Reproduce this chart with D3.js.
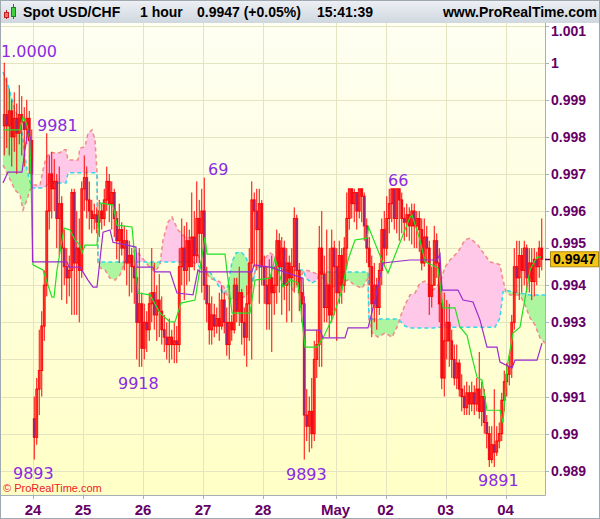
<!DOCTYPE html>
<html><head><meta charset="utf-8">
<script src="https://cdn.jsdelivr.net/npm/d3@7"></script>
<style>html,body{margin:0;padding:0;background:#fff;}svg{display:block;}</style>
</head><body>
<svg id="chart" width="600" height="519"></svg>
<script>
// ---------- DATA ----------
const openP = [.9983,.9986,.9983,.9987,.9980,.9985,.9981,.9986,.9984,.9982,.9985,.9979,.9904,.9899,.9912,.9917,.9929,.9940,.9960,.9970,
.9966,.9968,.9958,.9962,.9950,.9945,.9942,.9944,.9965,.9946,.9950,.9944,.9966,.9969,.9963,.9960,.9958,.9959,.9957,.9960,
.9958,.9963,.9968,.9962,.9965,.9958,.9952,.9955,.9950,.9952,.9946,.9948,.9945,.9942,.9930,.9935,.9923,.9930,.9928,.9935,
.9938,.9932,.9936,.9933,.9928,.9926,.9924,.9926,.9924,.9925,.9924,.9945,.9950,.9944,.9952,.9945,.9953,.9948,.9958,.9954,
.9960,.9940,.9935,.9928,.9932,.9929,.9931,.9929,.9936,.9930,.9924,.9930,.9928,.9940,.9933,.9938,.9930,.9926,.9935,.9946,
.9963,.9960,.9955,.9962,.9945,.9940,.9935,.9942,.9938,.9940,.9952,.9945,.9950,.9940,.9946,.9942,.9945,.9958,.9944,.9938,
.9935,.9905,.9902,.9906,.9900,.9920,.9924,.9950,.9943,.9934,.9940,.9932,.9950,.9945,.9938,.9948,.9940,.9950,.9958,.9966,
.9962,.9965,.9960,.9966,.9964,.9956,.9950,.9945,.9935,.9940,.9934,.9944,.9955,.9950,.9958,.9962,.9966,.9958,.9966,.9963,
.9958,.9957,.9959,.9956,.9960,.9956,.9958,.9955,.9946,.9953,.9950,.9937,.9940,.9952,.9946,.9935,.9915,.9925,.9930,.9925,
.9920,.9915,.9919,.9912,.9910,.9907,.9911,.9908,.9911,.9908,.9912,.9906,.9910,.9903,.9900,.9893,.9897,.9895,.9898,.9900,
.9909,.9914,.9916,.9918,.9930,.9945,.9942,.9948,.9944,.9950,.9942,.9946,.9941,.9947,.9945,.9950];
const highP = [1.0000,.9996,.9993,.9990,.9992,.9989,.9994,.9991,.9988,.9990,.9987,.9982,.9910,.9915,.9928,.9933,.9944,.9981,.9975,.9976,
.9974,.9970,.9972,.9964,.9955,.9950,.9948,.9966,.9966,.9960,.9958,.9968,.9975,.9972,.9968,.9963,.9962,.9961,.9963,.9962,
.9966,.9972,.9970,.9968,.9966,.9960,.9962,.9957,.9956,.9955,.9952,.9950,.9948,.9945,.9950,.9938,.9935,.9933,.9938,.9950,
.9946,.9940,.9943,.9937,.9932,.9930,.9931,.9928,.9930,.9929,.9950,.9958,.9956,.9957,.9955,.9965,.9960,.9968,.9963,.9966,
.9969,.9945,.9940,.9937,.9935,.9934,.9938,.9940,.9938,.9934,.9940,.9932,.9942,.9942,.9945,.9939,.9934,.9940,.9950,.9968,
.9965,.9966,.9966,.9963,.9948,.9945,.9947,.9948,.9945,.9955,.9954,.9953,.9952,.9950,.9948,.9950,.9961,.9959,.9946,.9942,
.9937,.9912,.9910,.9915,.9925,.9928,.9956,.9960,.9948,.9955,.9950,.9955,.9952,.9950,.9952,.9950,.9953,.9965,.9966,.9966,
.9966,.9965,.9966,.9966,.9965,.9958,.9953,.9948,.9946,.9942,.9946,.9958,.9960,.9964,.9966,.9966,.9966,.9966,.9966,.9965,
.9961,.9962,.9961,.9962,.9962,.9960,.9960,.9958,.9958,.9956,.9952,.9945,.9956,.9954,.9950,.9940,.9938,.9936,.9935,.9928,
.9924,.9924,.9920,.9916,.9913,.9914,.9913,.9914,.9913,.9915,.9922,.9914,.9912,.9905,.9902,.9902,.9912,.9902,.9903,.9911,
.9917,.9919,.9921,.9932,.9950,.9952,.9952,.9950,.9952,.9951,.9950,.9950,.9950,.9949,.9952,.9958];
const lowP = [.9975,.9977,.9975,.9972,.9976,.9970,.9978,.9975,.9972,.9978,.9970,.9966,.9893,.9897,.9905,.9910,.9925,.9937,.9955,.9958,
.9960,.9950,.9948,.9936,.9940,.9935,.9937,.9932,.9932,.9932,.9930,.9942,.9960,.9958,.9955,.9954,.9955,.9954,.9953,.9955,
.9956,.9960,.9957,.9955,.9953,.9947,.9946,.9948,.9944,.9940,.9937,.9938,.9935,.9920,.9918,.9918,.9920,.9922,.9925,.9930,
.9928,.9925,.9926,.9924,.9922,.9920,.9919,.9920,.9919,.9919,.9922,.9940,.9936,.9940,.9941,.9945,.9944,.9946,.9946,.9938,
.9936,.9930,.9924,.9924,.9926,.9927,.9925,.9928,.9927,.9921,.9920,.9925,.9927,.9930,.9929,.9924,.9921,.9918,.9925,.9920,
.9945,.9944,.9935,.9940,.9935,.9928,.9928,.9922,.9932,.9935,.9938,.9932,.9936,.9930,.9933,.9930,.9938,.9940,.9933,.9930,
.9893,.9898,.9895,.9896,.9898,.9915,.9918,.9918,.9930,.9930,.9926,.9930,.9932,.9925,.9935,.9935,.9938,.9945,.9955,.9958,
.9957,.9955,.9958,.9957,.9952,.9946,.9940,.9926,.9930,.9928,.9932,.9940,.9945,.9948,.9954,.9957,.9955,.9954,.9952,.9954,
.9952,.9953,.9952,.9951,.9950,.9950,.9949,.9944,.9945,.9946,.9932,.9934,.9940,.9942,.9930,.9912,.9910,.9920,.9918,.9915,
.9913,.9912,.9910,.9906,.9905,.9905,.9905,.9906,.9905,.9906,.9904,.9902,.9900,.9896,.9891,.9892,.9891,.9894,.9896,.9898,
.9906,.9910,.9913,.9915,.9928,.9938,.9936,.9938,.9940,.9938,.9938,.9936,.9937,.9940,.9942,.9944];
const closeP = [.9986,.9983,.9987,.9980,.9985,.9981,.9986,.9984,.9982,.9985,.9979,.9970,.9899,.9912,.9917,.9929,.9940,.9960,.9970,.9966,
.9968,.9958,.9962,.9950,.9945,.9942,.9944,.9965,.9946,.9950,.9944,.9966,.9969,.9963,.9960,.9958,.9959,.9957,.9960,.9958,
.9963,.9968,.9962,.9965,.9958,.9952,.9955,.9950,.9952,.9946,.9948,.9945,.9942,.9930,.9935,.9923,.9930,.9928,.9935,.9938,
.9932,.9936,.9933,.9928,.9926,.9924,.9926,.9924,.9925,.9924,.9945,.9950,.9944,.9952,.9945,.9953,.9948,.9958,.9954,.9960,
.9940,.9935,.9928,.9932,.9929,.9931,.9929,.9936,.9930,.9924,.9930,.9928,.9940,.9933,.9938,.9930,.9926,.9935,.9946,.9963,
.9960,.9955,.9962,.9945,.9940,.9935,.9942,.9938,.9940,.9952,.9945,.9950,.9940,.9946,.9942,.9945,.9958,.9944,.9938,.9935,
.9905,.9902,.9906,.9900,.9920,.9924,.9950,.9943,.9934,.9940,.9932,.9950,.9945,.9938,.9948,.9940,.9950,.9958,.9966,.9962,
.9965,.9960,.9966,.9964,.9956,.9950,.9945,.9935,.9940,.9934,.9944,.9955,.9950,.9958,.9962,.9966,.9958,.9966,.9963,.9958,
.9957,.9959,.9956,.9960,.9956,.9958,.9955,.9946,.9953,.9950,.9937,.9940,.9952,.9946,.9935,.9915,.9925,.9930,.9925,.9920,
.9915,.9919,.9912,.9910,.9907,.9911,.9908,.9911,.9908,.9912,.9906,.9910,.9903,.9900,.9893,.9897,.9895,.9898,.9900,.9909,
.9914,.9916,.9918,.9930,.9945,.9942,.9948,.9944,.9950,.9942,.9946,.9941,.9947,.9945,.9950,.9947];

// Kijun (purple) line, read at bar positions
const kijunBars = [-0.5,1.5,7.1,8.3,9.5,10.7,11.1,11.3,25.1,25.9,30.3,33.5,35.5,37.1,39.5,42.3,43.5,52.7,53.1,59.5,60.3,66.3,69.1,75.5,77.5,78.3,99.1,99.9,106.3,119.5,120.3,126.3,127.5,136.3,137.5,145.5,148.3,151.5,162.3,173.1,174.3,175.1,181.5,183.5,187.5,190.3,193.1,197.1,198.3,203.1,204.3,213.1,215.1];
const kijunVals = [.99676,.99705,.99705,.99765,.99819,.99792,.99719,.99463,.99463,.99449,.99449,.99414,.99395,.99395,.99543,.99549,.99516,.99503,.99449,.99449,.99436,.99436,.99379,.99374,.99441,.99436,.99436,.99455,.99449,.99419,.99279,.99279,.99258,.99258,.99285,.99285,.99360,.99460,.99468,.99468,.99484,.99387,.99387,.99360,.99355,.99306,.99233,.99233,.99193,.99177,.99198,.99198,.99244];

// Tenkan (green) line
const tenkanBars = [-0.5,6.3,7.5,9.1,10.3,11.5,15.5,17.5,19.1,19.9,21.1,23.1,23.9,26.3,28.3,30.3,31.1,32.3,37.1,38.3,43.5,45.1,51.1,52.7,53.5,58.3,62.3,66.3,68.3,70.7,76.3,80.3,81.1,88.3,91.1,98.3,100.3,106.3,108.3,111.5,114.3,117.5,120.3,125.1,127.5,131.5,135.1,137.5,140.3,145.1,145.7,151.5,153.5,162.3,163.1,166.3,168.3,173.5,175.5,180.3,182.3,185.1,187.1,189.1,191.1,193.1,198.3,199.5,201.1,203.5,206.3,210.3,213.1,214.7];
const tenkanVals = [.99819,.99819,.99854,.99832,.99792,.99455,.99441,.99400,.99368,.99368,.99441,.99522,.99554,.99549,.99522,.99508,.99487,.99508,.99508,.99622,.99616,.99562,.99557,.99441,.99379,.99374,.99325,.99301,.99301,.99352,.99360,.99530,.99484,.99484,.99325,.99325,.99414,.99419,.99473,.99395,.99414,.99406,.99233,.99233,.99258,.99314,.99387,.99468,.99522,.99527,.99557,.99460,.99433,.99584,.99589,.99522,.99463,.99447,.99339,.99339,.99287,.99265,.99206,.99152,.99144,.99063,.99063,.99028,.99179,.99271,.99287,.99441,.99476,.99476];

// Cloud: Senkou span A (cyan) and span B (pink)
const cloudBars = [-0.5,1.5,4.3,6.3,7.5,9.1,10.3,11.5,14.3,15.5,16.7,18.3,22.3,23.5,24.7,25.5,29.5,30.3,32.3,33.5,35.1,36.3,37.1,37.5,38.3,40.3,42.3,44.3,46.3,48.3,50.3,52.3,54.3,58.3,60.3,62.3,63.5,65.5,67.1,69.5,72.3,75.1,77.1,78.3,80.3,82.3,84.3,86.3,87.9,89.5,91.1,92.7,94.7,96.7,98.3,99.5,100.7,102.3,104.3,106.3,108.3,110.3,111.5,113.5,115.5,117.5,119.5,120.7,123.1,125.1,126.3,128.3,131.1,134.3,137.5,140.3,143.1,145.5,145.9,147.1,149.5,152.3,155.1,157.5,158.7,160.3,162.3,164.3,166.3,168.3,171.5,174.3,176.3,178.3,181.5,184.3,186.3,189.5,192.3,194.3,196.3,198.3,199.5,200.7,202.3,206.3,208.3,210.3,212.3,214.3,216.3];
const spanA = [.99975,.99940,.99872,.99846,.99792,.99711,.99678,.99662,.99662,.99662,.99668,.99676,.99676,.99676,.99676,.99703,.99703,.99703,.99703,.99703,.99703,.99703,.99703,.99463,.99463,.99463,.99463,.99463,.99463,.99463,.99463,.99463,.99463,.99463,.99463,.99463,.99463,.99463,.99463,.99463,.99463,.99463,.99457,.99447,.99436,.99436,.99414,.99392,.99374,.99400,.99463,.99487,.99490,.99476,.99441,.99409,.99449,.99449,.99449,.99449,.99449,.99447,.99441,.99441,.99441,.99441,.99441,.99419,.99406,.99414,.99436,.99436,.99436,.99436,.99436,.99436,.99436,.99436,.99309,.99309,.99309,.99309,.99309,.99309,.99301,.99290,.99285,.99285,.99285,.99285,.99285,.99287,.99287,.99287,.99287,.99287,.99287,.99287,.99287,.99287,.99287,.99312,.99382,.99387,.99384,.99379,.99376,.99374,.99374,.99374,.99374];
const spanB = [.99724,.99697,.99657,.99643,.99603,.99630,.99657,.99670,.99670,.99711,.99743,.99757,.99757,.99765,.99765,.99738,.99738,.99770,.99773,.99810,.99819,.99792,.99703,.99463,.99447,.99441,.99419,.99414,.99428,.99463,.99479,.99495,.99481,.99447,.99436,.99455,.99522,.99570,.99584,.99549,.99530,.99527,.99495,.99463,.99441,.99419,.99414,.99409,.99395,.99365,.99363,.99360,.99365,.99371,.99387,.99409,.99452,.99463,.99473,.99487,.99479,.99463,.99441,.99406,.99387,.99400,.99436,.99441,.99436,.99430,.99436,.99409,.99395,.99406,.99414,.99400,.99392,.99419,.99306,.99271,.99260,.99271,.99260,.99293,.99320,.99347,.99374,.99379,.99406,.99411,.99387,.99406,.99449,.99468,.99490,.99522,.99527,.99508,.99481,.99463,.99460,.99455,.99414,.99382,.99374,.99374,.99347,.99312,.99293,.99258,.99244];

// Axes
const priceTicks = [0.989,0.990,0.991,0.992,0.993,0.994,0.995,0.996,0.997,0.998,0.999,1.000,1.001];
const priceTickLabels = ["0.989","0.99","0.991","0.992","0.993","0.994","0.995","0.996","0.997","0.998","0.999","1","1.001"];
const dayLabels = ["24","25","26","27","28","May","02","03","04"];
const dayStartBars = [12,32,56,80,104,133,153,177,201];
const lastPrice = 0.9947;

// High / low annotations (text, bar position of left edge, price level of baseline)
const annoText = ["1.0000","9981","9918","69","9893","9893","66","9891"];
const annoBar = [-1.3,13.1,45.5,81.5,3.5,112.7,153.5,189.5];
const annoPrice = [1.00015,.99816,.99120,.99697,.98878,.98875,.99668,.98859];

// ---------- DRAW ----------
const svg = d3.select("#chart");
const W = 600, H = 519;
const P = {left:1, right:545, top:23, bottom:495};

const x = d3.scaleLinear().domain([-0.5, 216.3]).range([3, 545]);
const y = d3.scaleLinear().domain([0.989, 1.0]).range([470.7, 62.7]);

const defs = svg.append("defs");
const hg = defs.append("linearGradient").attr("id","hdr").attr("x1",0).attr("y1",0).attr("x2",0).attr("y2",1);
hg.append("stop").attr("offset","0%").attr("stop-color","#eef1f5");
hg.append("stop").attr("offset","100%").attr("stop-color","#cfd7df");
const pg = defs.append("linearGradient").attr("id","plotbg").attr("x1",0).attr("y1",0).attr("x2",0).attr("y2",1);
pg.append("stop").attr("offset","0%").attr("stop-color","#fefef2");
pg.append("stop").attr("offset","100%").attr("stop-color","#ffffc6");
defs.append("clipPath").attr("id","plotclip").append("rect")
  .attr("x",P.left).attr("y",P.top).attr("width",P.right-P.left).attr("height",P.bottom-P.top);

svg.append("rect").attr("width",W).attr("height",H).attr("fill","#ffffff");
svg.append("rect").attr("x",0).attr("y",0).attr("width",W).attr("height",P.top).attr("fill","url(#hdr)");
svg.append("rect").attr("x",P.left).attr("y",P.top).attr("width",P.right-P.left).attr("height",P.bottom-P.top).attr("fill","url(#plotbg)");

const plot = svg.append("g").attr("clip-path","url(#plotclip)");

// grid
plot.selectAll("line.hg").data(priceTicks).join("line")
  .attr("x1",P.left).attr("x2",P.right)
  .attr("y1",d=>Math.round(y(d))+0.5).attr("y2",d=>Math.round(y(d))+0.5)
  .attr("stroke","#e4e4c0").attr("stroke-width",1);
plot.selectAll("line.vg").data(dayStartBars).join("line")
  .attr("x1",d=>Math.round(x(d-0.5))+0.5).attr("x2",d=>Math.round(x(d-0.5))+0.5)
  .attr("y1",P.top).attr("y2",P.bottom)
  .attr("stroke","#e4e4c0").attr("stroke-width",1);

// cloud
const idx = d3.range(cloudBars.length);
const yTop = P.top, yBot = P.bottom;
defs.append("clipPath").attr("id","aboveB").append("path")
  .attr("d", d3.area().x(i=>x(cloudBars[i])).y0(yTop-5).y1(i=>y(spanB[i]))(idx));
defs.append("clipPath").attr("id","belowB").append("path")
  .attr("d", d3.area().x(i=>x(cloudBars[i])).y0(i=>y(spanB[i])).y1(yBot+5)(idx));
const cloudArea = d3.area().x(i=>x(cloudBars[i])).y0(i=>y(spanA[i])).y1(i=>y(spanB[i]));
plot.append("g").attr("clip-path","url(#aboveB)").append("path")
  .attr("d", cloudArea(idx)).attr("fill","#aef5a0");
plot.append("g").attr("clip-path","url(#belowB)").append("path")
  .attr("d", cloudArea(idx)).attr("fill","#ffc8e8");
plot.append("path").attr("d", d3.line().x(i=>x(cloudBars[i])).y(i=>y(spanB[i]))(idx))
  .attr("fill","none").attr("stroke","#f28a8a").attr("stroke-width",1.5).attr("stroke-dasharray","4,3");
plot.append("path").attr("d", d3.line().x(i=>x(cloudBars[i])).y(i=>y(spanA[i]))(idx))
  .attr("fill","none").attr("stroke","#30d8ec").attr("stroke-width",1.5).attr("stroke-dasharray","4,3");

// candles
const bars = d3.range(closeP.length);
const cg = plot.append("g");
cg.selectAll("line.wick").data(bars).join("line")
  .attr("x1",i=>x(i)).attr("x2",i=>x(i))
  .attr("y1",i=>y(highP[i])).attr("y2",i=>y(lowP[i]))
  .attr("stroke","#ff0000").attr("stroke-width",1);
cg.selectAll("rect.body").data(bars).join("rect")
  .attr("x",i=>x(i)-0.9).attr("width",1.8)
  .attr("y",i=>y(Math.max(openP[i],closeP[i])))
  .attr("height",i=>Math.max(0.8, Math.abs(y(openP[i])-y(closeP[i]))))
  .attr("fill",i=>closeP[i]<openP[i] ? "#6a38b0" : "none")
  .attr("stroke","#ff0000").attr("stroke-width",1);

// indicator lines
plot.append("path").attr("d", d3.line().x((d,i)=>x(tenkanBars[i])).y(d=>y(d))(tenkanVals))
  .attr("fill","none").attr("stroke","#22e022").attr("stroke-width",1.2);
plot.append("path").attr("d", d3.line().x((d,i)=>x(kijunBars[i])).y(d=>y(d))(kijunVals))
  .attr("fill","none").attr("stroke","#9a2bd0").attr("stroke-width",1.2);

// annotations
plot.selectAll("text.anno").data(annoText).join("text")
  .attr("x",(d,i)=>x(annoBar[i])).attr("y",(d,i)=>y(annoPrice[i]))
  .attr("font-family","DejaVu Sans, sans-serif").attr("font-size",16)
  .attr("fill","#8a2be2").text(d=>d);

plot.append("text").attr("x",3).attr("y",492)
  .attr("font-family","Liberation Sans, Arial, sans-serif").attr("font-size",11)
  .attr("fill","#ee2222").text("© ProRealTime.com");

// plot borders
svg.append("line").attr("x1",P.right+0.5).attr("x2",P.right+0.5).attr("y1",P.top).attr("y2",P.bottom+0.5)
  .attr("stroke","#a8b0b8");
svg.append("line").attr("x1",0).attr("x2",P.right+0.5).attr("y1",P.bottom+0.5).attr("y2",P.bottom+0.5)
  .attr("stroke","#a8b0b8");

// right axis
const ly = y(lastPrice);
const ra = svg.append("g");
ra.selectAll("line").data(priceTicks).join("line")
  .attr("x1",P.right).attr("x2",P.right+4)
  .attr("y1",d=>Math.round(y(d))+0.5).attr("y2",d=>Math.round(y(d))+0.5)
  .attr("stroke","#a8b0b8");
ra.selectAll("text").data(priceTicks).join("text")
  .attr("x",P.right+6)
  .attr("y",d=>{ let v = Math.max(y(d), 31); const dd = v - ly; if (Math.abs(dd) < 16) v = ly + (dd < 0 ? -16 : 16); return v; })
  .attr("dy","0.36em")
  .attr("font-family","Liberation Sans, Arial, sans-serif").attr("font-weight","bold").attr("font-size",14)
  .attr("fill","#660066").text((d,i)=>priceTickLabels[i]);

// current price box
svg.append("line").attr("x1",P.right).attr("x2",P.right+5).attr("y1",Math.round(ly)+0.5).attr("y2",Math.round(ly)+0.5)
  .attr("stroke","#660066").attr("stroke-width",1.5);
svg.append("rect").attr("x",P.right+5.5).attr("y",ly-7.5).attr("width",48).attr("height",15)
  .attr("fill","#f6c513").attr("stroke","#b08a10").attr("stroke-width",1);
svg.append("text").attr("x",P.right+8).attr("y",ly).attr("dy","0.36em")
  .attr("font-family","Liberation Sans, Arial, sans-serif").attr("font-weight","bold").attr("font-size",14)
  .attr("fill","#000").text(d3.format(".4f")(lastPrice));

// bottom axis
const ba = svg.append("g");
ba.selectAll("line").data(dayStartBars).join("line")
  .attr("x1",d=>Math.round(x(d-0.5))+0.5).attr("x2",d=>Math.round(x(d-0.5))+0.5)
  .attr("y1",P.bottom).attr("y2",P.bottom+4).attr("stroke","#a8b0b8");
ba.selectAll("text").data(dayStartBars).join("text")
  .attr("x",d=>x(d-0.5)).attr("y",515).attr("text-anchor","middle")
  .attr("font-family","Liberation Sans, Arial, sans-serif").attr("font-weight","bold").attr("font-size",15)
  .attr("fill","#660066").text((d,i)=>dayLabels[i]);

// header
const hdr = svg.append("g").attr("font-family","Liberation Sans, Arial, sans-serif").attr("font-weight","bold").attr("font-size",14).attr("fill","#000");
hdr.append("text").attr("x",23).attr("y",17).text("Spot USD/CHF");
hdr.append("text").attr("x",140).attr("y",17).text("1 hour");
hdr.append("text").attr("x",197).attr("y",17).text("0.9947 (+0.05%)");
hdr.append("text").attr("x",317).attr("y",17).text("15:41:39");
hdr.append("text").attr("x",597).attr("y",17).attr("text-anchor","end").text("www.ProRealTime.com");
// icon
const ic = svg.append("g");
ic.append("line").attr("x1",6.5).attr("x2",6.5).attr("y1",10).attr("y2",19).attr("stroke","#c02020");
ic.append("rect").attr("x",4.5).attr("y",12.5).attr("width",4).attr("height",5).attr("fill","#f07070").attr("stroke","#c02020");
ic.append("line").attr("x1",13.5).attr("x2",13.5).attr("y1",4).attr("y2",19).attr("stroke","#208020");
ic.append("rect").attr("x",11.5).attr("y",7.5).attr("width",4).attr("height",9).attr("fill","#40d040").attr("stroke","#208020");

// outer frame
svg.append("rect").attr("x",0.5).attr("y",0.5).attr("width",W-1).attr("height",H-1)
  .attr("fill","none").attr("stroke","#a0a8b0");
</script>
</body></html>
